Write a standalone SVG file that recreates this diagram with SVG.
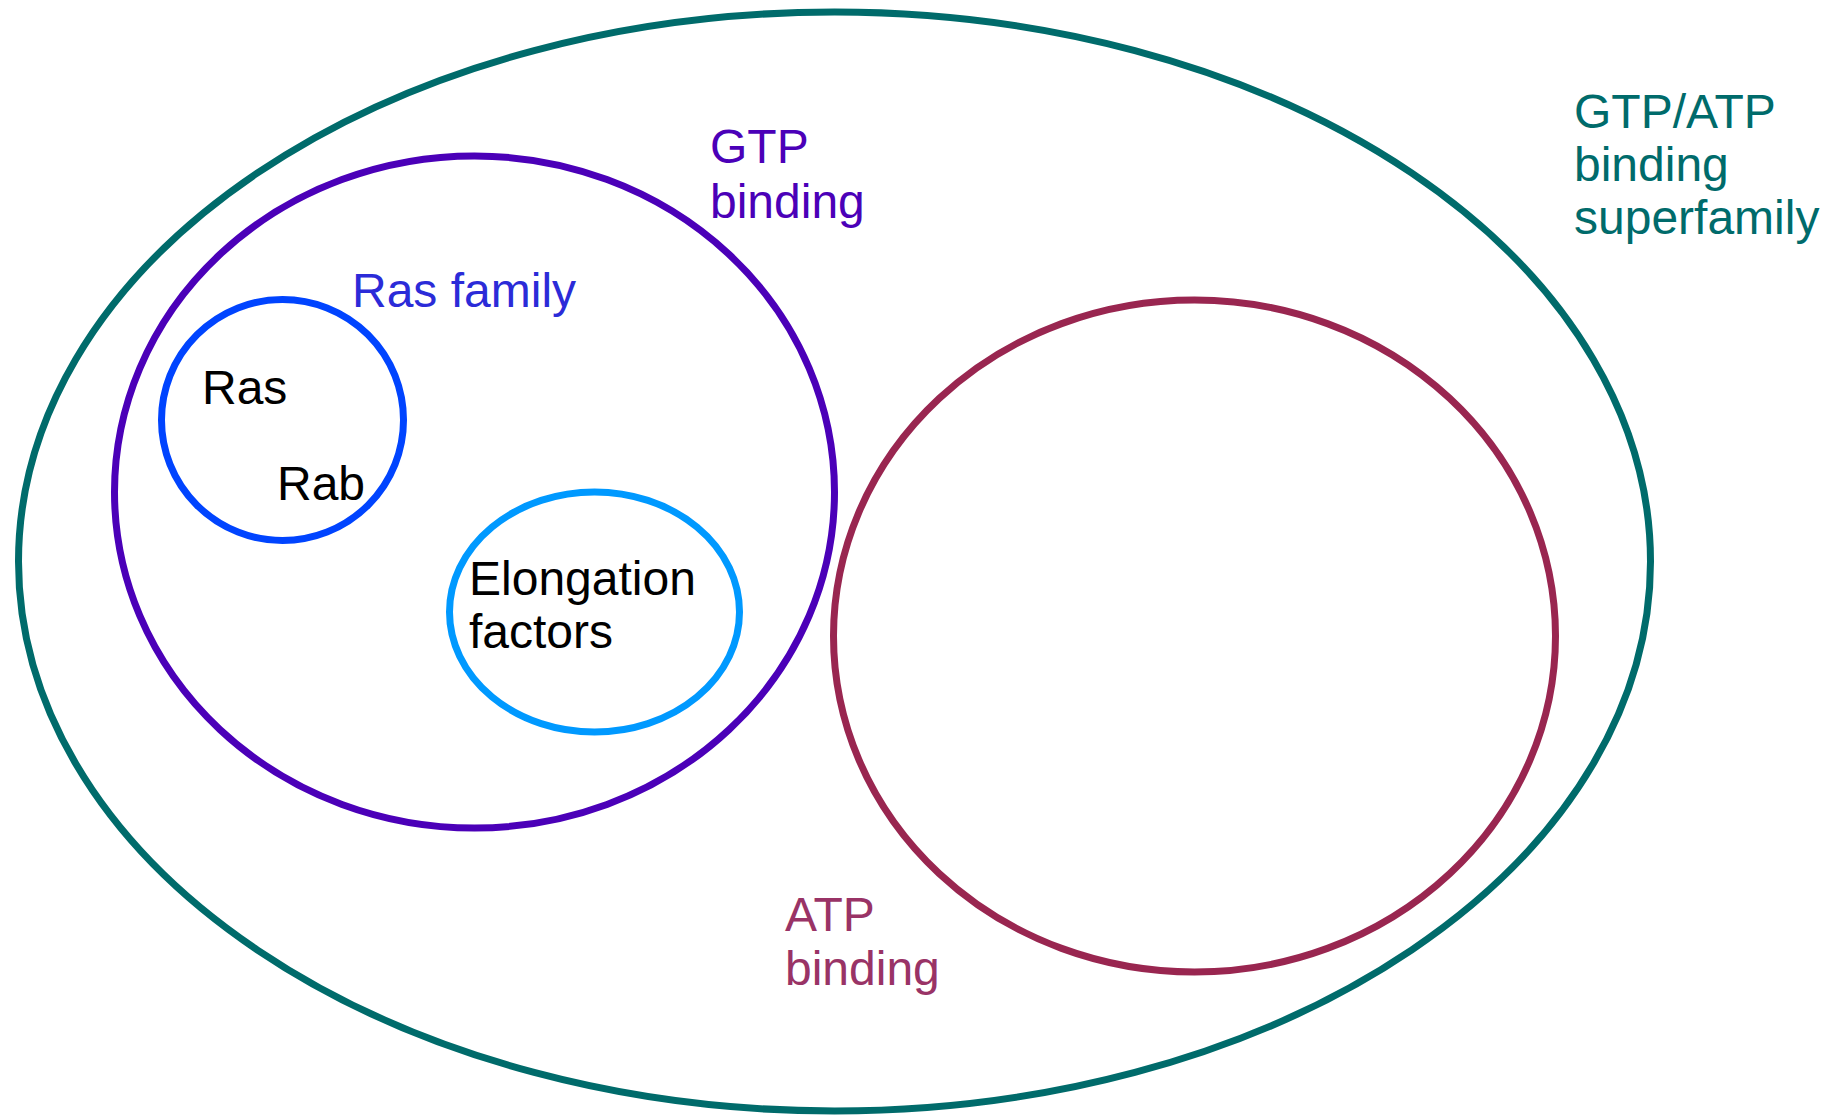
<svg xmlns="http://www.w3.org/2000/svg" width="1838" height="1115" viewBox="0 0 1838 1115">
<style>
.set{fill:none;stroke-width:7}
text{font-family:"Liberation Sans",Arial,sans-serif;font-size:48px}
.k{fill:#000}
</style>
<rect width="1838" height="1115" fill="#fff"/>
<g id="superfamily">
<ellipse class="set" cx="834.5" cy="561.5" rx="816" ry="549.5" stroke="#006b6b"/>
<text fill="#006b6b" x="1574" y="128">GTP/ATP</text>
<text fill="#006b6b" x="1574" y="181">binding</text>
<text fill="#006b6b" x="1574" y="234">superfamily</text>
</g>
<g id="gtp-binding">
<ellipse class="set" cx="474.5" cy="492" rx="360" ry="336" stroke="#4b00b8"/>
<text fill="#4b00b8" x="710" y="163">GTP</text>
<text fill="#4b00b8" x="710" y="218">binding</text>
</g>
<g id="ras-family">
<ellipse class="set" cx="282.5" cy="420" rx="121" ry="120.5" stroke="#0044ff"/>
<text fill="#2b2bd8" x="352" y="307">Ras family</text>
<text class="k" x="202" y="404">Ras</text>
<text class="k" x="277" y="500">Rab</text>
</g>
<g id="elongation-factors">
<ellipse class="set" cx="594.5" cy="612" rx="145" ry="120" stroke="#0099ff"/>
<text class="k" x="469" y="595">Elongation</text>
<text class="k" x="469" y="648">factors</text>
</g>
<g id="atp-binding">
<ellipse class="set" cx="1194.5" cy="636" rx="361" ry="336" stroke="#992650"/>
<text fill="#993366" x="785" y="931">ATP</text>
<text fill="#993366" x="785" y="985">binding</text>
</g>
<g id="connectors"/>
</svg>
